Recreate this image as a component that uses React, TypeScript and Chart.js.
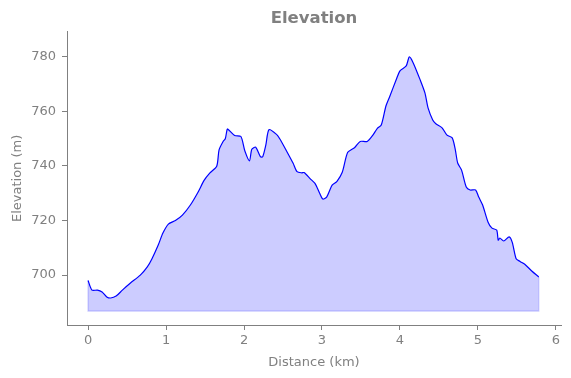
import React, { useEffect, useRef } from "react";
import { Chart, registerables } from "chart.js";

Chart.register(...registerables);

const distanceKm = [
  0.0, 0.05, 0.12, 0.18, 0.24, 0.29, 0.36, 0.44, 0.54, 0.67, 0.76, 0.82, 0.9, 0.96, 1.03, 1.12, 1.21,
  1.31, 1.41, 1.49, 1.56, 1.65, 1.68, 1.73, 1.76, 1.78, 1.79, 1.88, 1.96, 2.01, 2.07, 2.1, 2.15, 2.21,
  2.24, 2.28, 2.32, 2.42, 2.46, 2.54, 2.63, 2.68, 2.74, 2.77, 2.85, 2.91, 2.97, 3.01, 3.06, 3.13, 3.19,
  3.26, 3.33, 3.42, 3.49, 3.58, 3.65, 3.71, 3.76, 3.82, 3.87, 3.95, 4.0, 4.08, 4.12, 4.17, 4.26, 4.32,
  4.36, 4.42, 4.46, 4.54, 4.6, 4.67, 4.71, 4.74, 4.79, 4.85, 4.9, 4.97, 5.01, 5.06, 5.13, 5.18, 5.24,
  5.26, 5.28, 5.33, 5.4, 5.44, 5.49, 5.54, 5.6, 5.69, 5.78,
];

const elevationM = [
  698.0, 694.5, 694.5, 693.8, 692.0, 691.6, 692.3, 694.5, 697.0, 700.0, 703.0, 706.0, 711.0, 715.4, 718.7, 720.0, 722.0,
  725.6, 730.4, 734.8, 737.4, 739.9, 745.9, 748.9, 750.0, 753.0, 753.6, 751.2, 750.8, 745.6, 741.9, 746.1, 746.9, 743.4,
  743.4, 747.7, 753.3, 751.5, 749.9, 745.8, 741.0, 737.9, 737.5, 737.6, 735.3, 733.6, 730.0, 727.9, 728.6, 733.0, 734.3,
  737.7, 745.0, 746.8, 749.0, 749.0, 751.2, 753.8, 755.0, 762.0, 765.6, 771.5, 774.9, 776.7, 780.0, 777.8, 771.5, 766.8,
  761.3, 756.9, 755.5, 754.0, 751.4, 750.3, 745.9, 741.1, 738.5, 732.3, 731.2, 731.2, 728.6, 725.7, 719.4, 717.2, 716.5,
  712.8, 713.6, 712.5, 714.0, 712.0, 706.0, 705.0, 704.0, 701.5, 699.3,
];

const FILL_BASE = 686.8;
const xTickValues = [0, 1, 2, 3, 4, 5, 6];
const yTickValues = [700, 720, 740, 760, 780];
const X_MIN = -0.27;
const X_MAX = 6.065;
const Y_MIN = 681.7;
const Y_MAX = 789.2;

const GRAY = "#808080";
const FONT = "'DejaVu Sans', sans-serif";

export default function App() {
  const ref = useRef<HTMLCanvasElement | null>(null);

  useEffect(() => {
    document.body.style.margin = "0";
    if (!ref.current) return;
    const n = distanceKm.length;
    const main = distanceKm.map((x, i) => ({ x, y: elevationM[i] }));
    const edge = [
      { x: distanceKm[0], y: elevationM[0] },
      { x: distanceKm[0], y: FILL_BASE },
      { x: distanceKm[n - 1], y: FILL_BASE },
      { x: distanceKm[n - 1], y: elevationM[n - 1] },
    ];
    const chart = new Chart(ref.current, {
      type: "line",
      data: {
        datasets: [
          {
            label: "Elevation",
            data: main,
            borderColor: "#0000ff",
            borderWidth: 1.2,
            backgroundColor: "rgba(0,0,255,0.2)",
            fill: { value: FILL_BASE },
            pointRadius: 0,
            tension: 0.25,
            order: 0,
          },
          {
            label: "edge",
            data: edge,
            borderColor: "rgba(0,0,255,0.2)",
            borderWidth: 1.2,
            fill: false,
            pointRadius: 0,
            tension: 0,
            order: 1,
          },
        ],
      },
      options: {
        responsive: false,
        animation: false,
        layout: { padding: { left: 0, right: 10, top: 0, bottom: 0 } },
        plugins: {
          legend: { display: false },
          tooltip: { enabled: false },
          title: {
            display: true,
            text: "Elevation",
            color: GRAY,
            fullSize: false,
            font: { family: FONT, size: 16.5, weight: "bold", lineHeight: 1.2 },
            padding: { top: 9, bottom: 3 },
          },
        },
        scales: {
          x: {
            type: "linear",
            min: X_MIN,
            max: X_MAX,
            afterBuildTicks: (s: any) => {
              s.ticks = xTickValues.map((v) => ({ value: v }));
            },
            afterFit: (s: any) => {
              s.height = 53;
            },
            ticks: {
              color: GRAY,
              font: { family: FONT, size: 13 },
              padding: 3,
              maxRotation: 0,
              includeBounds: false,
              callback: (v: any) => String(v),
            },
            grid: {
              display: true,
              drawOnChartArea: false,
              drawTicks: true,
              tickLength: 5,
              color: GRAY,
              lineWidth: 1,
            },
            border: { display: true, color: GRAY, width: 1 },
            title: {
              display: true,
              text: "Distance (km)",
              color: GRAY,
              font: { family: FONT, size: 13 },
              padding: { top: 4, bottom: 8 },
            },
          },
          y: {
            type: "linear",
            min: Y_MIN,
            max: Y_MAX,
            afterBuildTicks: (s: any) => {
              s.ticks = yTickValues.map((v) => ({ value: v }));
            },
            afterFit: (s: any) => {
              s.width = 67;
            },
            ticks: {
              color: GRAY,
              font: { family: FONT, size: 13 },
              padding: 6,
              includeBounds: false,
              callback: (v: any) => String(v),
            },
            grid: {
              display: true,
              drawOnChartArea: false,
              drawTicks: true,
              tickLength: 5,
              color: GRAY,
              lineWidth: 1,
            },
            border: { display: true, color: GRAY, width: 1 },
            title: {
              display: true,
              text: "Elevation (m)",
              color: GRAY,
              font: { family: FONT, size: 13 },
              padding: { top: 10, bottom: 4 },
            },
          },
        },
      },
    });
    return () => chart.destroy();
  }, []);

  return (
    <div style={{ position: "absolute", left: 0, top: 0, width: 571, height: 378 }}>
      <canvas ref={ref} width={571} height={378} style={{ width: 571, height: 378 }} />
    </div>
  );
}
